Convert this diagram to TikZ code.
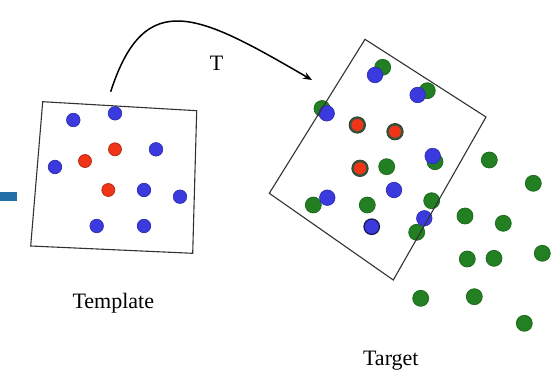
\documentclass[tikz,border=0pt]{standalone}
\usepackage{fontspec}
\setmainfont{Liberation Serif}
\usetikzlibrary{arrows.meta}

\definecolor{dotblue}{RGB}{58,58,222}
\definecolor{dotgreen}{RGB}{34,128,34}
\definecolor{dotred}{RGB}{240,52,24}
\definecolor{barblue}{RGB}{35,110,165}
\definecolor{framegray}{RGB}{50,50,50}
\definecolor{rimgray}{RGB}{60,85,60}

\tikzset{
  dotbase/.style={circle, inner sep=0pt, line width=0.7pt},
  tblue/.style={dotbase, minimum size=13.5pt, fill=dotblue, draw=dotblue!80!black},
  tred/.style={dotbase, minimum size=13pt, fill=dotred, draw=dotred!75!black},
  gblue/.style={dotbase, minimum size=15.5pt, fill=dotblue, draw=dotblue!80!black},
  ggreen/.style={dotbase, minimum size=16pt, fill=dotgreen, draw=dotgreen!80!black},
  gring/.style={dotbase, minimum size=16.5pt, fill=rimgray, draw=rimgray!70!black},
  gred/.style={dotbase, minimum size=12pt, fill=dotred, draw=none},
  gnavy/.style={dotbase, minimum size=15.5pt, fill=dotblue, draw=dotblue!35!black, line width=1.2pt},
  frame/.style={draw=framegray, line width=1.1pt, line join=miter},
  label/.style={font=\fontsize{22}{26}\selectfont, inner sep=0pt, anchor=base},
  mapping/.style={draw=black, line width=1.5pt, -{Stealth[length=9pt,width=7pt]}}
}

\begin{document}
\begin{tikzpicture}[x=1pt,y=-1pt]
\useasboundingbox (0,0) rectangle (558,381);

% side bar
\fill[barblue] (0,191.7) rectangle (17.3,200.5);

% template frame
\coordinate (t1) at (42.7,101.7);
\coordinate (t2) at (196.7,110.7);
\coordinate (t3) at (192.7,253.3);
\coordinate (t4) at (30.7,246);
\draw[frame] (t1) -- (t2) -- (t3) -- (t4) -- cycle;

% template points
\node[tblue] (p1) at (73.3,120) {};
\node[tblue] (p2) at (115,113.3) {};
\node[tred]  (p3) at (115,149.3) {};
\node[tblue] (p4) at (156,149.3) {};
\node[tred]  (p5) at (85,161) {};
\node[tblue] (p6) at (55,167) {};
\node[tred]  (p7) at (108.3,190) {};
\node[tblue] (p8) at (144,190) {};
\node[tblue] (p9) at (180,196.7) {};
\node[tblue] (p10) at (96.7,226) {};
\node[tblue] (p11) at (144,226) {};

% target points (green)
\node[ggreen] (g1) at (382.7,67.3) {};
\node[ggreen] (g2) at (427.3,90.7) {};
\node[ggreen] (g3) at (322,108.5) {};
\node[ggreen] (g4) at (435,161.7) {};
\node[ggreen] (g5) at (386.7,166.7) {};
\node[ggreen] (g6) at (313.3,205) {};
\node[ggreen] (g7) at (367.3,205) {};
\node[ggreen] (g8) at (431.7,200.7) {};
\node[ggreen] (g9) at (416.7,232.3) {};
\node[ggreen] (g10) at (489.3,160) {};
\node[ggreen] (g11) at (533.3,183.3) {};
\node[ggreen] (g12) at (465,216) {};
\node[ggreen] (g13) at (503.3,223.3) {};
\node[ggreen] (g14) at (467.3,259) {};
\node[ggreen] (g15) at (494,258.3) {};
\node[ggreen] (g16) at (542.3,253.3) {};
\node[ggreen] (g17) at (420.7,298.3) {};
\node[ggreen] (g18) at (474.3,296.7) {};
\node[ggreen] (g19) at (524.3,323.3) {};

% transformed template points (red with dark rim)
\node[gring] (r1a) at (357.3,125) {};
\node[gred]  (r1)  at (357.3,125) {};
\node[gring] (r2a) at (395,131.7) {};
\node[gred]  (r2)  at (395,131.7) {};
\node[gring] (r3a) at (360,168.3) {};
\node[gred]  (r3)  at (360,168.3) {};

% transformed template points (blue)
\node[gblue] (q1) at (375,75) {};
\node[gblue] (q2) at (417.7,95) {};
\node[gblue] (q3) at (326.7,113.3) {};
\node[gblue] (q4) at (432.7,156) {};
\node[gblue] (q5) at (394,190) {};
\node[gblue] (q6) at (327.3,197.7) {};
\node[gblue] (q7) at (424.3,218.3) {};
\node[gnavy] (q8) at (371.7,226.7) {};

% target frame
\coordinate (s1) at (365,39.3);
\coordinate (s2) at (486,117);
\coordinate (s3) at (393.3,280);
\coordinate (s4) at (269.3,193.3);
\draw[frame] (s1) -- (s2) -- (s3) -- (s4) -- cycle;

% mapping arrow
\coordinate (from) at (110.7,91.7);
\coordinate (to) at (312,80);
\draw[mapping] (from) .. controls (145,-15) and (200,15) .. (to);

% labels
\node[label] (lt) at (216.7,70.7) {T};
\node[label] (ltemplate) at (113.3,308.3) {Template};
\node[label] (ltarget) at (390.8,365) {Target};
\end{tikzpicture}
\end{document}
